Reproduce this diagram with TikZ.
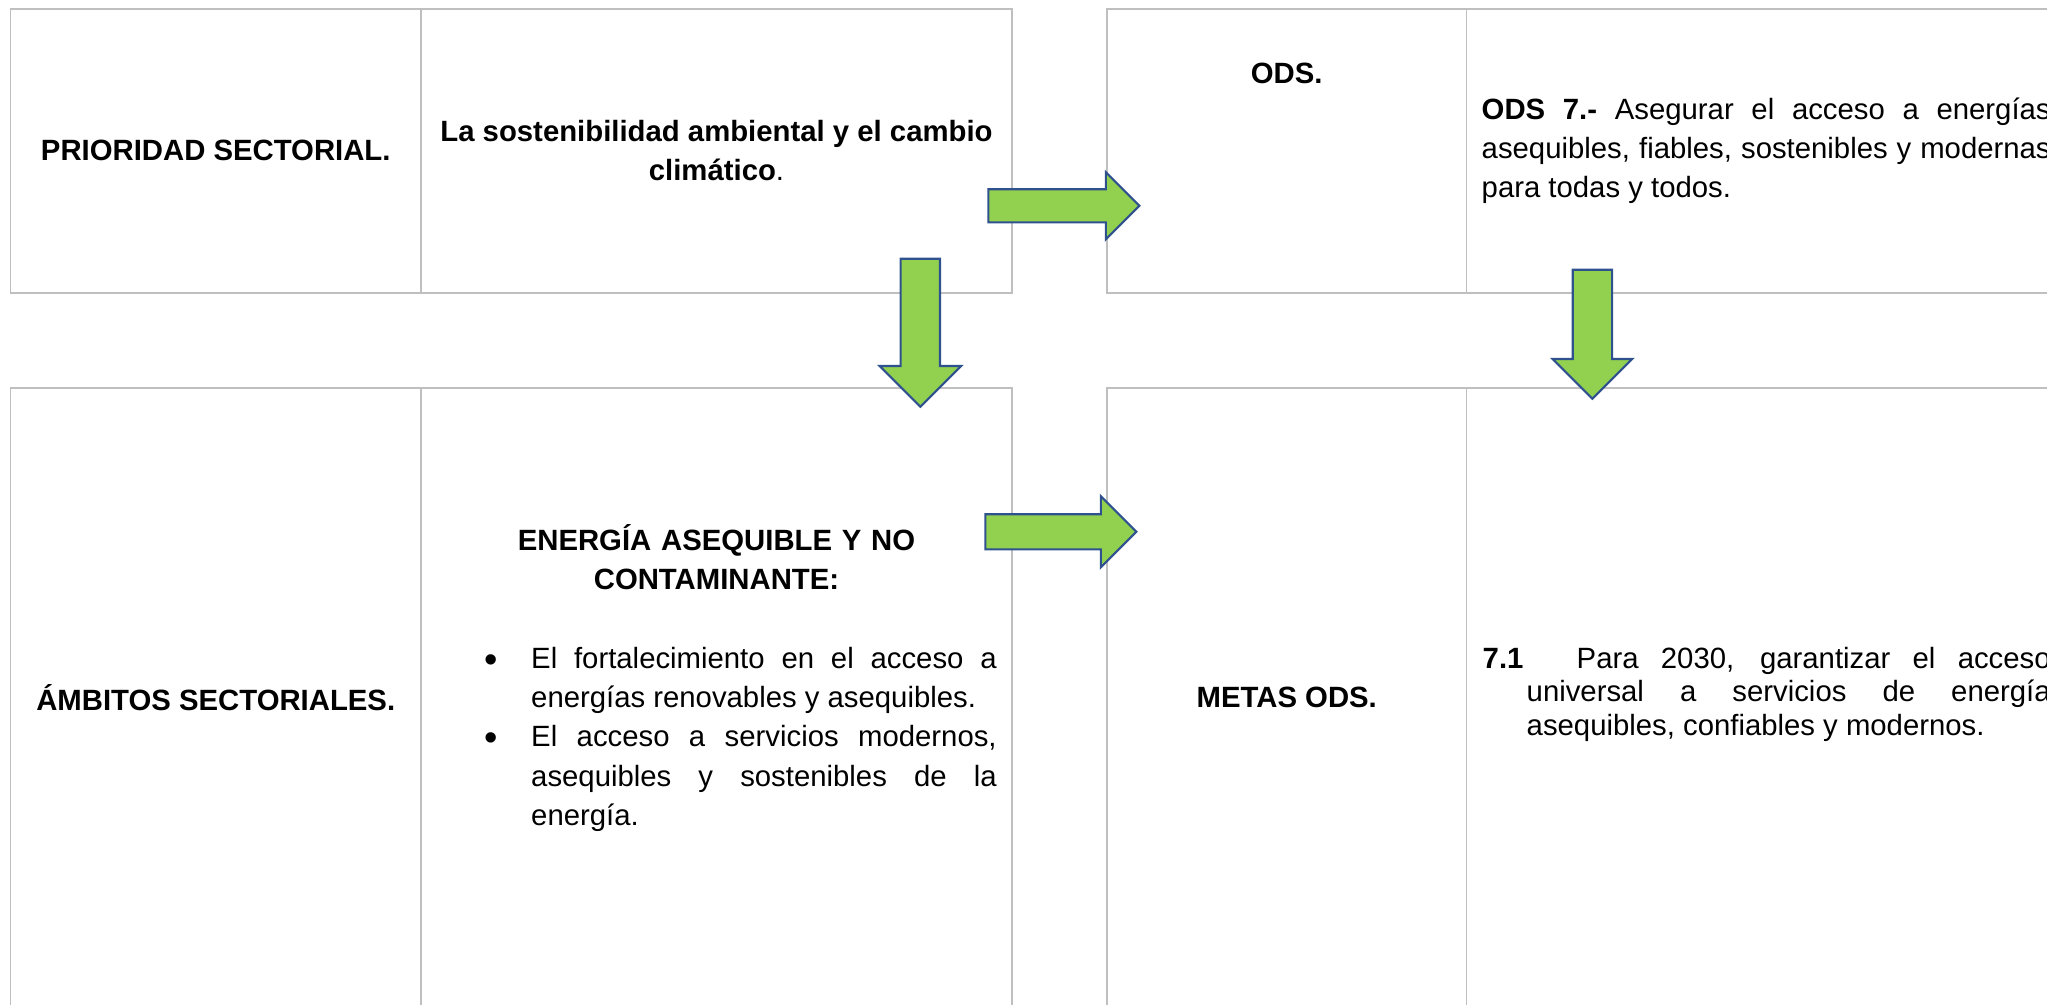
\documentclass[tikz,border=0pt]{standalone}
\usepackage{fontspec}
\setmainfont{Liberation Sans}
\usetikzlibrary{positioning,shapes.arrows}
\definecolor{cellline}{RGB}{191,191,191}
\definecolor{arrowfill}{RGB}{146,208,80}
\definecolor{arrowedge}{RGB}{47,82,143}
\newcommand{\listdot}{\makebox[0.47cm][l]{\raisebox{-1pt}{\scalebox{1.3}{\textbullet}}}}

\begin{document}
\begin{tikzpicture}[font=\fontsize{8.34pt}{11.15pt}\selectfont,
  cell/.style={draw=cellline,line width=0.5pt,rectangle,inner sep=0pt,outer sep=0pt,minimum height=2.837cm},
  lowcell/.style={cell,minimum height=6.2cm},
  greenarrow/.style={shape=single arrow,draw=arrowedge,fill=arrowfill,line width=0.6pt,single arrow tip angle=90,anchor=tail}]
\useasboundingbox (0,0) rectangle (20.47,-10.05);
\clip (0,0) rectangle (20.47,-10.05);

% upper row
\node[cell,minimum width=4.105cm,anchor=north west] (prio) at (0.105,-0.09) {\textbf{PRIORIDAD SECTORIAL.}};
\node[cell,minimum width=5.91cm,align=center,right=0pt of prio] (sost) {\textbf{La sostenibilidad ambiental y el cambio}\\\textbf{climático}.};
\node[cell,minimum width=3.595cm,anchor=north west] (ods) at (11.07,-0.09) {};
\node[cell,minimum width=6cm,right=0pt of ods] (odsdesc) {};
\node[anchor=base] (odslabel) at (12.867,-0.833) {\textbf{ODS.}};
\node[anchor=base west,text width=5.69cm,align=justify,inner sep=0pt] (odstext) at (14.81,-1.193)
  {\textbf{ODS 7.-} Asegurar el acceso a energías\linebreak asequibles, fiables, sostenibles y modernas\linebreak para todas y todos.};

% lower row
\node[lowcell,minimum width=4.105cm,anchor=north west] (ambitos) at (0.105,-3.877) {\textbf{ÁMBITOS SECTORIALES.}};
\node[lowcell,minimum width=5.91cm,right=0pt of ambitos] (energia) {};
\node[anchor=base,text width=5.91cm,align=center,inner sep=0pt] (energiahead) at (7.165,-5.50)
  {\textbf{ENERGÍA ASEQUIBLE Y NO}\\\textbf{CONTAMINANTE:}};
\node[anchor=base west,text width=5.125cm,align=justify,inner sep=0pt] (energialist) at (4.835,-6.685)
  {\hangindent=0.47cm\hangafter=1\listdot El fortalecimiento en el acceso a\linebreak energías renovables y asequibles.\par
   \hangindent=0.47cm\hangafter=1\listdot El acceso a servicios modernos,\linebreak asequibles y sostenibles de la\linebreak energía.\par};
\node[lowcell,minimum width=3.595cm,anchor=north west] (metas) at (11.07,-3.877) {\textbf{METAS ODS.}};
\node[lowcell,minimum width=6cm,right=0pt of metas] (metasdesc) {};
\node[anchor=base west,text width=5.68cm,align=justify,inner sep=0pt,font=\fontsize{8.34pt}{9.59pt}\selectfont] (metastext) at (14.82,-6.68)
  {\hangindent=0.44cm\hangafter=1\makebox[0.94cm][l]{\textbf{7.1}}Para 2030, garantizar el acceso\linebreak universal a servicios de energía\linebreak asequibles, confiables y modernos.\par};

% block arrows
\node[greenarrow,minimum height=1.51cm,inner sep=0.155cm,single arrow head extend=0.17cm] (toods) at (9.873,-2.058) {};
\node[greenarrow,shape border rotate=270,minimum height=1.48cm,inner sep=0.1865cm,single arrow head extend=0.21cm] (toambitos) at (9.203,-2.577) {};
\node[greenarrow,shape border rotate=270,minimum height=1.29cm,inner sep=0.1865cm,single arrow head extend=0.2cm] (tometas) at (15.924,-2.687) {};
\node[greenarrow,minimum height=1.51cm,inner sep=0.165cm,single arrow head extend=0.18cm] (tometasleft) at (9.843,-5.318) {};
\end{tikzpicture}
\end{document}
